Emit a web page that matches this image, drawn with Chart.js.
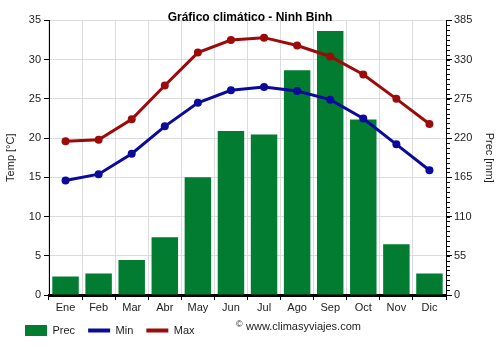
<!DOCTYPE html>
<html>
<head>
<meta charset="utf-8">
<script src="https://cdn.jsdelivr.net/npm/chart.js@4"></script>
<style>
  html, body { margin: 0; padding: 0; background: #fff; }
  #wrap { width: 500px; height: 350px; }
</style>
</head>
<body>
<div id="wrap"><canvas id="chart" width="500" height="350"></canvas></div>
<script>
const months = ['Ene', 'Feb', 'Mar', 'Abr', 'May', 'Jun', 'Jul', 'Ago', 'Sep', 'Oct', 'Nov', 'Dic'];
const prec = [26, 30, 49, 81, 165, 230, 225, 315, 370, 246, 71, 30];
const tempMin = [14.6, 15.4, 18.0, 21.5, 24.5, 26.1, 26.5, 26.0, 24.9, 22.5, 19.2, 15.9];
const tempMax = [19.6, 19.8, 22.4, 26.7, 30.9, 32.5, 32.8, 31.8, 30.4, 28.1, 25.0, 21.8];

const font = 'Liberation Sans, Arial, sans-serif';

// extra bits: minor ticks on the right axis, watermark, legend shift
const extras = {
    id: 'extras',
    afterUpdate(chart) {
        chart.legend.left = 12;
        chart.legend.top -= 4;
        chart.legend.adjustHitBoxes();
    },
    afterDraw(chart) {
        const ctx = chart.ctx;
        const y1 = chart.scales.y1;
        ctx.save();
        ctx.strokeStyle = '#000';
        ctx.lineWidth = 1;
        for (let v = 0; v <= 385; v += 55 / 8) {
            const py = Math.round(y1.getPixelForValue(v)) + 0.5;
            ctx.beginPath();
            ctx.moveTo(y1.left, py);
            ctx.lineTo(y1.left + 4, py);
            ctx.stroke();
        }
        // little dots in the middle of the line legend items
        chart.legend.legendHitBoxes.forEach((box, i) => {
            const item = chart.legend.legendItems[i];
            if (item.pointStyle !== 'line') return;
            ctx.fillStyle = item.fillStyle;
            ctx.beginPath();
            ctx.arc(box.left + 11, box.top + box.height / 2, 2.5, 0, Math.PI * 2);
            ctx.fill();
        });
        ctx.fillStyle = '#222';
        ctx.font = '9px ' + font;
        ctx.textBaseline = 'middle';
        ctx.fillText('©', 236, 325);
        ctx.font = '11px ' + font;
        ctx.fillText('www.climasyviajes.com', 246, 327);
        ctx.restore();
    }
};

new Chart(document.getElementById('chart').getContext('2d'), {
    type: 'bar',
    data: {
        labels: months,
        datasets: [
            {
                type: 'line',
                label: 'Min',
                data: tempMin,
                yAxisID: 'y',
                borderColor: '#0a0a9c',
                backgroundColor: '#0a0a9c',
                borderWidth: 3,
                pointRadius: 4,
                pointBorderWidth: 0,
                pointHoverRadius: 4,
                order: 1
            },
            {
                type: 'line',
                label: 'Max',
                data: tempMax,
                yAxisID: 'y',
                borderColor: '#9c0a0a',
                backgroundColor: '#9c0a0a',
                borderWidth: 3,
                pointRadius: 4,
                pointBorderWidth: 0,
                pointHoverRadius: 4,
                order: 0
            },
            {
                label: 'Prec',
                data: prec,
                yAxisID: 'y1',
                backgroundColor: '#027c30',
                categoryPercentage: 0.8,
                barPercentage: 1,
                order: 2
            }
        ]
    },
    options: {
        responsive: false,
        animation: false,
        layout: { padding: 0 },
        plugins: {
            title: {
                display: true,
                text: 'Gráfico climático - Ninh Binh',
                color: '#000',
                font: { family: font, size: 12, weight: 'bold' },
                padding: { top: 10, bottom: -4 }
            },
            legend: {
                position: 'bottom',
                align: 'start',
                labels: {
                    usePointStyle: true,
                    pointStyleWidth: 22,
                    boxHeight: 11,
                    padding: 13,
                    color: '#222',
                    font: { family: font, size: 11 },
                    sort: (a, b) => ['Prec', 'Min', 'Max'].indexOf(a.text) - ['Prec', 'Min', 'Max'].indexOf(b.text),
                    generateLabels(chart) {
                        return chart.data.datasets.map((ds, i) => ({
                            text: ds.label,
                            datasetIndex: i,
                            fillStyle: ds.backgroundColor,
                            strokeStyle: ds.backgroundColor,
                            lineWidth: ds.type === 'line' ? 4 : 0,
                            pointStyle: ds.type === 'line' ? 'line' : 'rect',
                            fontColor: '#222'
                        }));
                    }
                }
            },
            tooltip: { enabled: false }
        },
        scales: {
            x: {
                offset: true,
                grid: {
                    offset: true,
                    color: '#dcdcdc',
                    tickColor: '#000',
                    tickLength: 5
                },
                border: { color: '#000', width: 3 },
                ticks: { color: '#222', padding: 1, font: { family: font, size: 11 } },
                afterFit(s) { s.height = 21; }
            },
            y: {
                position: 'left',
                min: 0,
                max: 35,
                ticks: { stepSize: 5, color: '#222', padding: 3, font: { family: font, size: 11 } },
                grid: { color: '#dcdcdc', tickColor: '#000', tickLength: 5 },
                border: { color: '#000', width: 1 },
                title: {
                    display: true,
                    text: 'Temp [°C]',
                    color: '#222',
                    font: { family: font, size: 11 },
                    padding: { top: 4, bottom: 0 }
                },
                afterFit(s) { s.width = 49; }
            },
            y1: {
                position: 'right',
                min: 0,
                max: 385,
                ticks: { stepSize: 55, color: '#222', padding: 2, font: { family: font, size: 11 } },
                grid: { drawOnChartArea: false, tickColor: '#000', tickLength: 6 },
                border: { color: '#000', width: 1 },
                title: {
                    display: true,
                    text: 'Prec [mm]',
                    color: '#222',
                    font: { family: font, size: 11 },
                    padding: { top: 4, bottom: 0 }
                },
                afterFit(s) { s.width = 54; }
            }
        }
    },
    plugins: [extras]
});
</script>
</body>
</html>
